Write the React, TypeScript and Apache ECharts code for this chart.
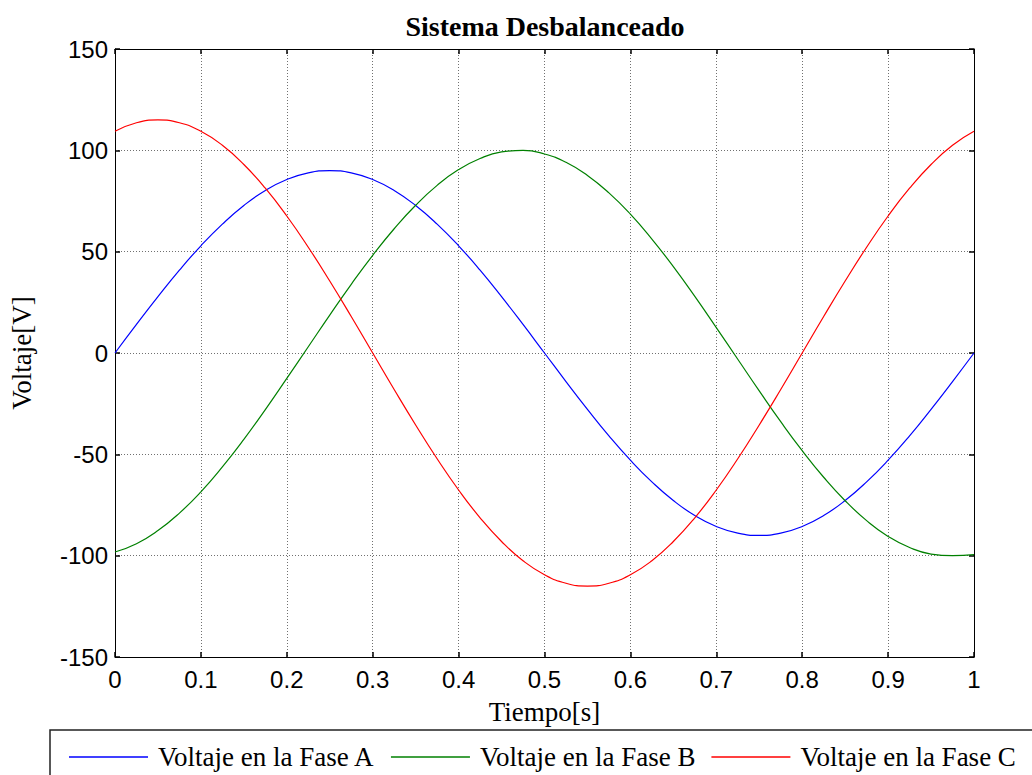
import React, { useEffect, useRef } from "react";
import * as echarts from "echarts";

const titleText = "Sistema Desbalanceado";
const xName = "Tiempo[s]";
const yName = "Voltaje[V]";
const seriesNames = ["Voltaje en la Fase A", "Voltaje en la Fase B", "Voltaje en la Fase C"];
const seriesColors = ["#0000ff", "#008000", "#ff0000"];

// time samples (s)
const tiempo = [
  0, 0.025, 0.05, 0.075, 0.1, 0.125, 0.15, 0.175, 0.2, 0.225,
  0.25, 0.275, 0.3, 0.325, 0.35, 0.375, 0.4, 0.425, 0.45, 0.475,
  0.5, 0.525, 0.55, 0.575, 0.6, 0.625, 0.65, 0.675, 0.7, 0.725,
  0.75, 0.775, 0.8, 0.825, 0.85, 0.875, 0.9, 0.925, 0.95, 0.975, 1,
];

const faseA = [
  0, 14.1, 27.8, 40.9, 52.9, 63.6, 72.8, 80.2, 85.6, 88.9,
  90, 88.9, 85.6, 80.2, 72.8, 63.6, 52.9, 40.9, 27.8, 14.1,
  0, -14.1, -27.8, -40.9, -52.9, -63.6, -72.8, -80.2, -85.6, -88.9,
  -90, -88.9, -85.6, -80.2, -72.8, -63.6, -52.9, -40.9, -27.8, -14.1, 0,
];

const faseB = [
  -98.2, -94.1, -87.6, -79.0, -68.5, -56.2, -42.6, -27.9, -12.5, 3.1,
  18.7, 33.9, 48.2, 61.3, 72.9, 82.7, 90.5, 96.0, 99.2, 100.0,
  98.2, 94.1, 87.6, 79.0, 68.5, 56.2, 42.6, 27.9, 12.5, -3.1,
  -18.7, -33.9, -48.2, -61.3, -72.9, -82.7, -90.5, -96.0, -99.2, -100.0, -99.5,
];

const faseC = [
  109.4, 113.6, 115, 113.6, 109.4, 102.5, 93.0, 81.3, 67.6, 52.2,
  35.5, 18.0, 0, -18.0, -35.5, -52.2, -67.6, -81.3, -93.0, -102.5,
  -109.4, -113.6, -115, -113.6, -109.4, -102.5, -93.0, -81.3, -67.6, -52.2,
  -35.5, -18.0, 0, 18.0, 35.5, 52.2, 67.6, 81.3, 93.0, 102.5, 109.4,
];

const X_MIN = 0, X_MAX = 1, X_STEP = 0.1;
const Y_MIN = -150, Y_MAX = 150, Y_STEP = 50;

const serif = "'Liberation Serif', 'Times New Roman', serif";
const sans = "'Liberation Sans', Arial, sans-serif";

export default function App() {
  const ref = useRef<HTMLDivElement>(null);
  useEffect(() => {
    if (!ref.current) return;
    const chart = echarts.init(ref.current, null, { renderer: "svg" });
    const allData = [faseA, faseB, faseC];
    const splitLine = { show: true, lineStyle: { color: "#707070", type: [1, 2] as any, width: 1 } };
    const axisLine = { show: true, onZero: false, lineStyle: { color: "#000", width: 1 } };
    const axisTick = { show: true, inside: true, length: 5, lineStyle: { color: "#000", width: 1.5 } };
    chart.setOption({
      animation: false,
      backgroundColor: "#fff",
      title: {
        text: titleText,
        left: 540,
        textAlign: "center",
        top: 7,
        textStyle: { fontFamily: serif, fontWeight: "bold", fontSize: 28, color: "#000" },
      },
      grid: { left: 109, right: 58, top: 49, bottom: 118, containLabel: false },
      legend: {
        left: 64,
        top: 737,
        itemWidth: 79,
        itemHeight: 1.5,
        itemGap: 16,
        icon: "rect",
        textStyle: { fontFamily: serif, fontSize: 27, color: "#000", padding: [0, 0, 0, 5], lineHeight: 30 },
        data: seriesNames.map((n, i) => ({ name: n, icon: "rect", itemStyle: { color: seriesColors[i] } })),
      },
      graphic: [
        {
          type: "rect",
          z: -1,
          shape: { x: 50, y: 730, width: 1000, height: 60 },
          style: { fill: "#fff", stroke: "#222", lineWidth: 1.5 },
        },
      ],
      xAxis: [
        {
          type: "value",
          min: X_MIN,
          max: X_MAX,
          interval: X_STEP,
          position: "bottom",
          name: xName,
          nameLocation: "middle",
          nameGap: 41,
          nameTextStyle: { fontFamily: serif, fontSize: 27, color: "#000" },
          axisLine,
          axisTick,
          splitLine,
          axisLabel: { fontFamily: sans, fontSize: 24, color: "#000", margin: 10 },
        },
        {
          type: "value",
          min: X_MIN,
          max: X_MAX,
          interval: X_STEP,
          position: "top",
          axisLine,
          axisTick,
          splitLine: { show: false },
          axisLabel: { show: false },
        },
      ],
      yAxis: [
        {
          type: "value",
          min: Y_MIN,
          max: Y_MAX,
          interval: Y_STEP,
          position: "left",
          name: yName,
          nameLocation: "middle",
          nameGap: 80,
          nameRotate: 90,
          nameTextStyle: { fontFamily: serif, fontSize: 27, color: "#000" },
          axisLine,
          axisTick,
          splitLine,
          axisLabel: { fontFamily: sans, fontSize: 24, color: "#000", margin: 7 },
        },
        {
          type: "value",
          min: Y_MIN,
          max: Y_MAX,
          interval: Y_STEP,
          position: "right",
          axisLine,
          axisTick,
          splitLine: { show: false },
          axisLabel: { show: false },
        },
      ],
      series: seriesNames.map((name, i) => ({
        name,
        type: "line",
        symbol: "none",
        smooth: true,
        data: tiempo.map((t, j) => [t, allData[i][j]]),
        lineStyle: { color: seriesColors[i], width: 1.2 },
        itemStyle: { color: seriesColors[i] },
      })),
    });
    return () => chart.dispose();
  }, []);
  return (
    <div
      ref={ref}
      style={{ position: "fixed", left: 0, top: 0, width: 1032, height: 775 }}
    />
  );
}
